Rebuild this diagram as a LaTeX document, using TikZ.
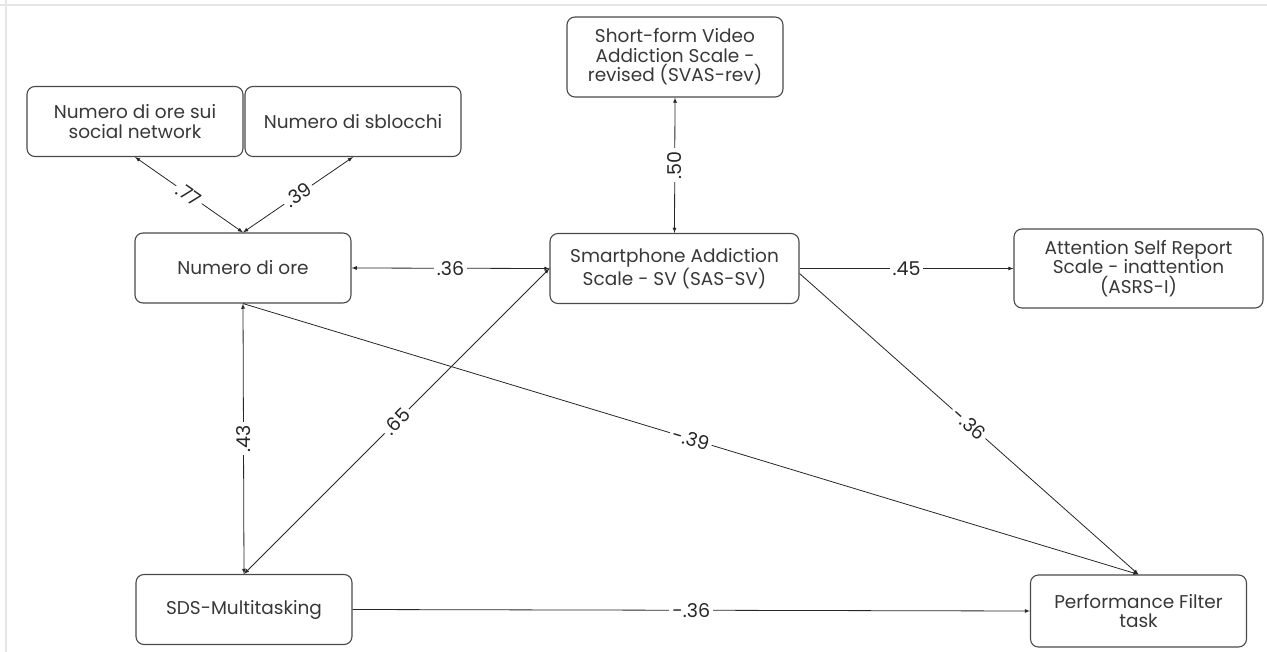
\documentclass[tikz,border=0pt]{standalone}
\usepackage{fontspec}
\setmainfont{Poppins}
\usetikzlibrary{arrows,calc}
\definecolor{boxgray}{HTML}{4A4A4A}
\definecolor{txtgray}{HTML}{383838}
\definecolor{framegray}{HTML}{E6E6E6}

\begin{document}
\begin{tikzpicture}[x=1pt, y=-1pt, >=latex, box/.style={draw=boxgray, line width=1.1pt, rounded corners=8pt, align=center, text=txtgray, font=\fontsize{18.5}{19.5}\selectfont, inner sep=0pt, minimum width=216pt, minimum height=70pt}, wide box/.style={box, minimum width=249pt}, link/.style={line width=0.8pt, draw=black!85}, coef/.style={fill=white, inner sep=3pt, font=\fontsize{19}{22}\selectfont, text=black!85, midway}]
\useasboundingbox (0,0) rectangle (1267,652);
\draw[framegray, line width=2pt] (0,5.5) -- (1267,5.5);
\draw[framegray, line width=2pt] (5.5,0) -- (5.5,652);
\node[box] (social) at (135,121.5) {Numero di ore sui\\social network};
\node[box] (unlock) at (353,121.5) {Numero di sblocchi};
\node[box] (hours) at (243,268) {Numero di ore};
\node[box, minimum height=80pt] (svas) at (675,57) {Short-form Video\\Addiction Scale -\\revised (SVAS-rev)};
\node[wide box] (sas) at (674.5,268.5) {Smartphone Addiction\\Scale - SV (SAS-SV)};
\node[wide box, minimum height=79pt] (asrs) at (1138.5,268.5) {Attention Self Report\\Scale - inattention\\(ASRS-I)};
\node[box] (sds) at (244,609.5) {SDS-Multitasking};
\node[box, minimum height=72pt] (perf) at (1138.5,611) {Performance Filter\\task};
\draw[link,<->] (hours.north) -- node[coef, sloped] {.77} (social.south);
\draw[link,<->] (hours.north) -- node[coef, sloped] {.39} (unlock.south);
\draw[link,<->] (hours.east) -- node[coef] {.36} (sas.west);
\draw[link,<->] (sas.north) -- node[coef, rotate=90] {.50} (svas.south);
\draw[link,->] (sas.east) -- node[coef] {.45} (asrs.west);
\draw[link,<->] (hours.south) -- node[coef, rotate=90] {.43} (sds.north);
\draw[link,<->] (sds.north) -- node[coef, sloped] {.65} (sas.west);
\draw[link,->] (hours.south) -- node[coef, sloped] {-.39} (perf.north);
\draw[link,->] ([yshift=-5pt]sas.east) -- node[coef, sloped] {-.36} (perf.north);
\draw[link,->] (sds.east) -- node[coef] {-.36} (perf.west);
\end{tikzpicture}
\end{document}
